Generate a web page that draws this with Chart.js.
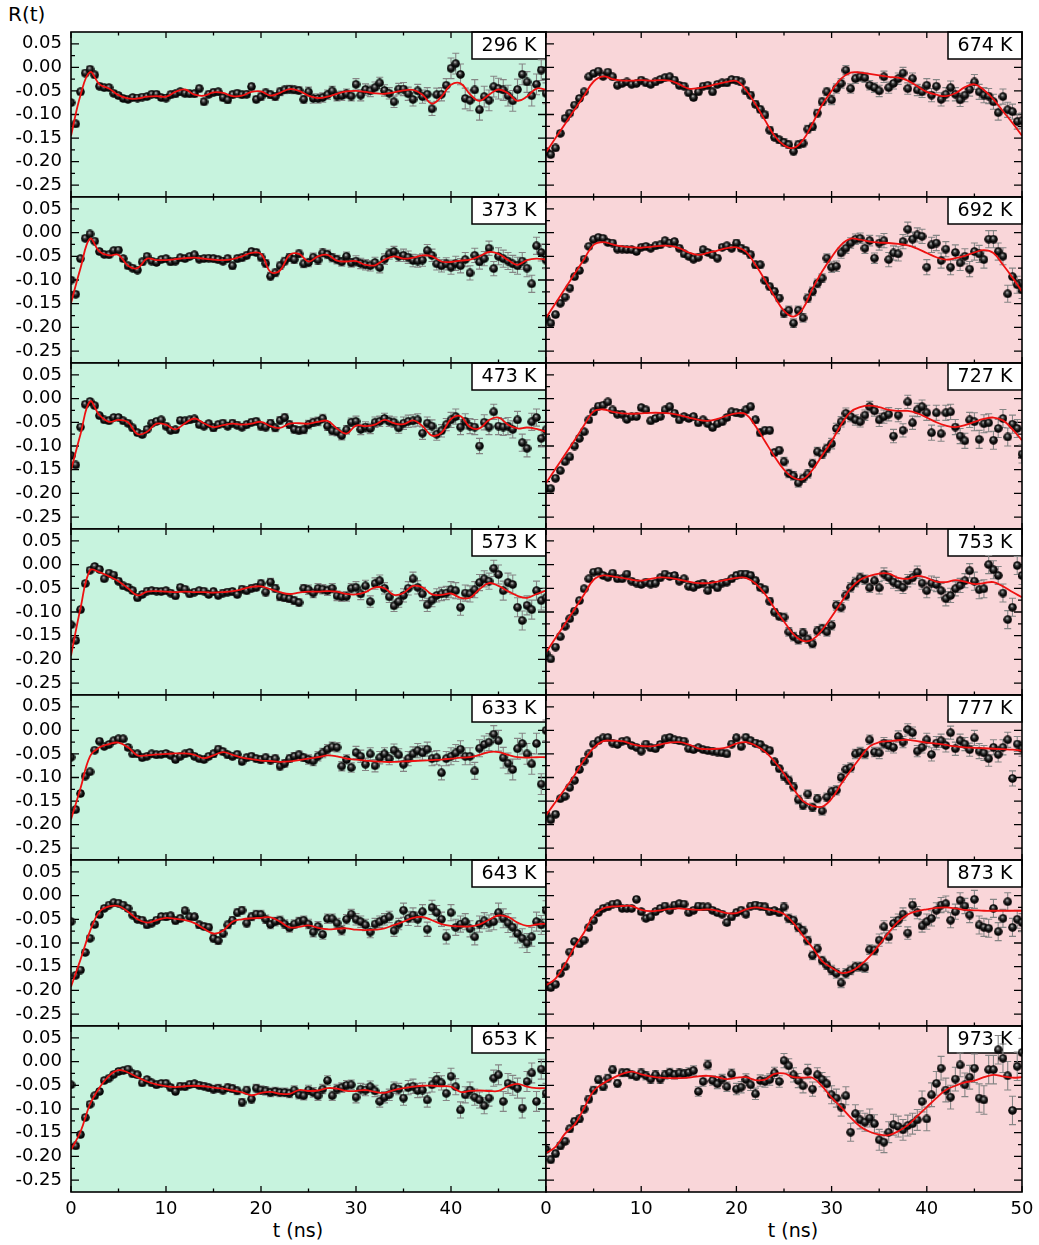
<!DOCTYPE html>
<html>
<head>
<meta charset="utf-8">
<script src="https://cdn.jsdelivr.net/npm/chart.js@4.4.1/dist/chart.umd.min.js"></script>
<style>
  body { margin: 0; background: #fff; width: 1039px; height: 1245px; position: relative; overflow: hidden; font-family: 'DejaVu Sans', sans-serif; }
  canvas { position: absolute; }
  .lab { position: absolute; font-size: 19px; line-height: 22px; color: #000; white-space: nowrap; }
</style>
</head>
<body>
<div class="lab" style="left:8px;top:3px;font-size:20px">R(t)</div>
<div class="lab" style="left:248px;top:1219px;width:100px;text-align:center">t (ns)</div>
<div class="lab" style="left:743px;top:1219px;width:100px;text-align:center">t (ns)</div>
<script>
// 14 panels, R(t) vs t, shared axes
Chart.defaults.font.family = "'DejaVu Sans', sans-serif";
Chart.defaults.font.size = 18;
Chart.defaults.color = '#000';

// sampling grids
const ptT = [0,0.5,1,1.5,2,2.5,3,3.5,4,4.5,5,5.5,6,6.5,7,7.5,8,8.5,9,9.5,
  10,10.5,11,11.5,12,12.5,13,13.5,14,14.5,15,15.5,16,16.5,17,17.5,18,18.5,19,19.5,
  20,20.5,21,21.5,22,22.5,23,23.5,24,24.5,25,25.5,26,26.5,27,27.5,28,28.5,29,29.5,
  30,30.5,31,31.5,32,32.5,33,33.5,34,34.5,35,35.5,36,36.5,37,37.5,38,38.5,39,39.5,
  40,40.5,41,41.5,42,42.5,43,43.5,44,44.5,45,45.5,46,46.5,47,47.5,48,48.5,49,49.5,50];
const fitT = [0,1,2,3,4,5,6,7,8,9,10,11,12,13,14,15,16,17,18,19,20,21,22,23,24,25,
  26,27,28,29,30,31,32,33,34,35,36,37,38,39,40,41,42,43,44,45,46,47,48,49,50];
const errBlockStart = [0,5,10,15,20,25,30,35,40,45];

// ticks
const xTicks = [0,10,20,30,40,50];
const xMinor = [5,15,25,35,45];
const yTicks = [0.05,0,-0.05,-0.1,-0.15,-0.2,-0.25];
const yMinor = [0.025,-0.025,-0.075,-0.125,-0.175,-0.225];

// ---- left column ----
const pts296 = [
  -0.075,-0.120,-0.052,-0.012,-0.004,-0.016,-0.040,-0.043,-0.043,-0.055,
  -0.060,-0.066,-0.068,-0.064,-0.065,-0.063,-0.062,-0.057,-0.057,-0.064,
  -0.065,-0.058,-0.056,-0.052,-0.055,-0.056,-0.056,-0.045,-0.073,-0.057,
  -0.053,-0.052,-0.064,-0.069,-0.058,-0.055,-0.058,-0.057,-0.041,-0.068,
  -0.062,-0.054,-0.058,-0.062,-0.052,-0.048,-0.046,-0.048,-0.049,-0.068,
  -0.052,-0.066,-0.066,-0.064,-0.058,-0.050,-0.061,-0.060,-0.056,-0.061,
  -0.036,-0.059,-0.047,-0.050,-0.043,-0.033,-0.049,-0.055,-0.073,-0.046,
  -0.046,-0.056,-0.068,-0.050,-0.062,-0.057,-0.088,-0.058,-0.057,-0.038,
  -0.002,0.008,-0.015,-0.066,-0.070,-0.048,-0.090,-0.062,-0.070,-0.041,
  -0.045,-0.048,-0.060,-0.071,-0.047,-0.015,-0.031,-0.060,-0.036,-0.006,
  -0.055];
const fit296 = [-0.145,-0.059,-0.010,-0.036,-0.045,-0.059,-0.066,-0.066,-0.062,-0.061,
  -0.062,-0.052,-0.047,-0.058,-0.060,-0.053,-0.054,-0.061,-0.060,-0.052,
  -0.051,-0.060,-0.054,-0.046,-0.050,-0.060,-0.065,-0.062,-0.056,-0.051,
  -0.050,-0.052,-0.055,-0.056,-0.053,-0.049,-0.048,-0.058,-0.077,-0.062,
  -0.037,-0.034,-0.057,-0.071,-0.058,-0.047,-0.055,-0.071,-0.062,-0.045,-0.047];
const err296 = [0.006,0.006,0.007,0.007,0.008,0.010,0.012,0.014,0.022,0.022];

const pts373 = [
  -0.100,-0.130,-0.055,-0.012,-0.003,-0.018,-0.040,-0.046,-0.047,-0.038,
  -0.037,-0.055,-0.070,-0.075,-0.079,-0.062,-0.050,-0.060,-0.063,-0.057,
  -0.055,-0.062,-0.060,-0.053,-0.055,-0.050,-0.047,-0.056,-0.055,-0.054,
  -0.055,-0.057,-0.060,-0.055,-0.070,-0.055,-0.053,-0.048,-0.040,-0.042,
  -0.052,-0.065,-0.092,-0.085,-0.070,-0.060,-0.052,-0.057,-0.045,-0.066,
  -0.063,-0.052,-0.058,-0.043,-0.046,-0.053,-0.057,-0.062,-0.050,-0.064,
  -0.060,-0.065,-0.068,-0.070,-0.063,-0.074,-0.056,-0.045,-0.040,-0.050,
  -0.048,-0.052,-0.059,-0.060,-0.058,-0.038,-0.048,-0.066,-0.070,-0.066,
  -0.073,-0.065,-0.070,-0.057,-0.085,-0.048,-0.062,-0.055,-0.033,-0.076,
  -0.050,-0.055,-0.060,-0.066,-0.070,-0.060,-0.075,-0.108,-0.028,-0.042,
  -0.058];
const fit373 = [-0.149,-0.075,-0.013,-0.040,-0.048,-0.047,-0.070,-0.075,-0.055,-0.058,
  -0.058,-0.056,-0.054,-0.053,-0.055,-0.057,-0.058,-0.056,-0.050,-0.043,
  -0.045,-0.083,-0.080,-0.047,-0.045,-0.061,-0.050,-0.047,-0.059,-0.061,
  -0.060,-0.068,-0.069,-0.057,-0.050,-0.055,-0.053,-0.048,-0.050,-0.061,
  -0.062,-0.059,-0.057,-0.050,-0.041,-0.045,-0.058,-0.068,-0.058,-0.055,-0.057];
const err373 = [0.005,0.006,0.006,0.007,0.008,0.009,0.011,0.013,0.015,0.018];

const pts473 = [
  -0.120,-0.140,-0.060,-0.012,-0.006,-0.015,-0.036,-0.045,-0.047,-0.040,
  -0.040,-0.047,-0.052,-0.062,-0.072,-0.076,-0.065,-0.052,-0.048,-0.045,
  -0.058,-0.067,-0.066,-0.046,-0.047,-0.045,-0.043,-0.055,-0.058,-0.053,
  -0.062,-0.055,-0.052,-0.058,-0.052,-0.056,-0.060,-0.055,-0.050,-0.048,
  -0.058,-0.060,-0.052,-0.062,-0.046,-0.040,-0.055,-0.065,-0.067,-0.066,
  -0.055,-0.050,-0.048,-0.042,-0.058,-0.068,-0.070,-0.078,-0.066,-0.050,
  -0.048,-0.065,-0.060,-0.063,-0.050,-0.048,-0.042,-0.048,-0.050,-0.062,
  -0.052,-0.048,-0.047,-0.045,-0.073,-0.052,-0.058,-0.075,-0.068,-0.055,
  -0.045,-0.038,-0.060,-0.048,-0.058,-0.060,-0.100,-0.050,-0.060,-0.028,
  -0.058,-0.060,-0.058,-0.065,-0.045,-0.093,-0.105,-0.049,-0.040,-0.084,
  -0.066];
const fit473 = [-0.151,-0.075,-0.006,-0.035,-0.049,-0.045,-0.050,-0.075,-0.070,-0.053,
  -0.055,-0.065,-0.052,-0.042,-0.052,-0.060,-0.056,-0.053,-0.055,-0.053,
  -0.049,-0.058,-0.062,-0.053,-0.052,-0.053,-0.049,-0.047,-0.063,-0.074,
  -0.057,-0.058,-0.055,-0.045,-0.052,-0.054,-0.046,-0.058,-0.078,-0.072,
  -0.043,-0.037,-0.060,-0.063,-0.045,-0.040,-0.055,-0.063,-0.061,-0.064,-0.070];
const err473 = [0.005,0.006,0.006,0.007,0.008,0.009,0.011,0.013,0.016,0.018];

const pts573 = [
  -0.127,-0.160,-0.095,-0.040,-0.012,-0.004,-0.010,-0.030,-0.018,-0.022,
  -0.035,-0.045,-0.048,-0.055,-0.070,-0.063,-0.056,-0.055,-0.056,-0.057,
  -0.055,-0.060,-0.066,-0.048,-0.052,-0.062,-0.058,-0.055,-0.056,-0.063,
  -0.057,-0.065,-0.060,-0.058,-0.057,-0.063,-0.052,-0.055,-0.050,-0.048,
  -0.040,-0.058,-0.037,-0.050,-0.068,-0.070,-0.072,-0.076,-0.080,-0.050,
  -0.053,-0.060,-0.050,-0.052,-0.055,-0.050,-0.066,-0.068,-0.067,-0.050,
  -0.048,-0.062,-0.045,-0.078,-0.040,-0.034,-0.050,-0.068,-0.087,-0.078,
  -0.065,-0.050,-0.030,-0.048,-0.062,-0.085,-0.075,-0.065,-0.062,-0.060,
  -0.053,-0.055,-0.090,-0.060,-0.062,-0.053,-0.038,-0.030,-0.035,-0.008,
  -0.021,-0.055,-0.038,-0.042,-0.090,-0.118,-0.086,-0.095,-0.055,-0.076,
  -0.070];
const fit573 = [-0.192,-0.092,-0.012,-0.016,-0.025,-0.035,-0.050,-0.065,-0.057,-0.056,
  -0.057,-0.058,-0.057,-0.058,-0.058,-0.059,-0.058,-0.056,-0.052,-0.047,
  -0.046,-0.052,-0.058,-0.062,-0.059,-0.057,-0.057,-0.056,-0.057,-0.062,
  -0.063,-0.058,-0.048,-0.050,-0.064,-0.060,-0.045,-0.048,-0.063,-0.064,
  -0.061,-0.070,-0.070,-0.052,-0.039,-0.045,-0.056,-0.066,-0.070,-0.062,-0.055];
const err573 = [0.005,0.006,0.006,0.007,0.008,0.010,0.012,0.014,0.017,0.020];

const pts633 = [
  -0.057,-0.168,-0.134,-0.097,-0.088,-0.042,-0.023,-0.034,-0.030,-0.022,
  -0.018,-0.018,-0.036,-0.050,-0.050,-0.058,-0.055,-0.050,-0.052,-0.051,
  -0.049,-0.053,-0.062,-0.055,-0.050,-0.047,-0.055,-0.060,-0.062,-0.055,
  -0.050,-0.040,-0.045,-0.052,-0.055,-0.051,-0.066,-0.058,-0.055,-0.060,
  -0.062,-0.058,-0.063,-0.060,-0.076,-0.070,-0.060,-0.055,-0.052,-0.058,
  -0.062,-0.065,-0.055,-0.048,-0.040,-0.035,-0.036,-0.076,-0.062,-0.079,
  -0.047,-0.055,-0.072,-0.050,-0.075,-0.058,-0.050,-0.060,-0.042,-0.052,
  -0.072,-0.060,-0.050,-0.043,-0.048,-0.040,-0.060,-0.058,-0.090,-0.060,
  -0.055,-0.048,-0.040,-0.055,-0.055,-0.086,-0.038,-0.030,-0.025,-0.008,
  -0.022,-0.058,-0.070,-0.083,-0.039,-0.028,-0.050,-0.071,-0.028,-0.114,
  0.000];
const fit633 = [-0.189,-0.123,-0.055,-0.036,-0.029,-0.026,-0.036,-0.053,-0.053,-0.051,
  -0.050,-0.049,-0.049,-0.052,-0.059,-0.053,-0.046,-0.052,-0.058,-0.061,
  -0.064,-0.065,-0.067,-0.066,-0.063,-0.060,-0.057,-0.053,-0.055,-0.060,
  -0.062,-0.064,-0.066,-0.067,-0.067,-0.066,-0.065,-0.064,-0.063,-0.062,
  -0.060,-0.058,-0.057,-0.052,-0.046,-0.046,-0.052,-0.057,-0.058,-0.057,-0.057];
const err633 = [0.005,0.006,0.006,0.007,0.008,0.010,0.013,0.015,0.018,0.022];

const pts643 = [
  -0.055,-0.168,-0.157,-0.120,-0.090,-0.061,-0.040,-0.027,-0.020,-0.015,
  -0.016,-0.020,-0.027,-0.041,-0.050,-0.052,-0.062,-0.058,-0.052,-0.044,
  -0.045,-0.043,-0.053,-0.048,-0.032,-0.045,-0.045,-0.062,-0.065,-0.067,
  -0.090,-0.095,-0.080,-0.062,-0.052,-0.036,-0.031,-0.058,-0.045,-0.039,
  -0.040,-0.050,-0.061,-0.055,-0.052,-0.060,-0.068,-0.060,-0.055,-0.052,
  -0.060,-0.077,-0.065,-0.082,-0.049,-0.049,-0.058,-0.073,-0.050,-0.039,
  -0.050,-0.055,-0.062,-0.077,-0.060,-0.055,-0.050,-0.045,-0.074,-0.060,
  -0.031,-0.048,-0.041,-0.050,-0.034,-0.071,-0.025,-0.036,-0.050,-0.087,
  -0.036,-0.067,-0.060,-0.055,-0.070,-0.087,-0.060,-0.053,-0.058,-0.055,
  -0.036,-0.048,-0.058,-0.067,-0.080,-0.090,-0.100,-0.087,-0.055,-0.062,
  -0.031];
const fit643 = [-0.192,-0.135,-0.075,-0.034,-0.023,-0.022,-0.034,-0.050,-0.057,-0.052,
  -0.047,-0.049,-0.052,-0.058,-0.070,-0.080,-0.074,-0.055,-0.050,-0.048,
  -0.047,-0.046,-0.055,-0.067,-0.066,-0.063,-0.068,-0.071,-0.070,-0.069,
  -0.072,-0.073,-0.072,-0.069,-0.062,-0.055,-0.047,-0.045,-0.052,-0.060,
  -0.064,-0.065,-0.065,-0.061,-0.051,-0.042,-0.045,-0.057,-0.064,-0.061,-0.059];
const err643 = [0.005,0.006,0.007,0.008,0.009,0.010,0.012,0.015,0.017,0.020];

const pts653 = [
  -0.049,-0.178,-0.154,-0.118,-0.090,-0.072,-0.063,-0.040,-0.035,-0.027,
  -0.021,-0.019,-0.016,-0.026,-0.028,-0.045,-0.038,-0.045,-0.049,-0.046,
  -0.046,-0.055,-0.063,-0.052,-0.053,-0.048,-0.047,-0.050,-0.052,-0.055,
  -0.058,-0.056,-0.060,-0.055,-0.057,-0.062,-0.086,-0.060,-0.079,-0.056,
  -0.060,-0.062,-0.065,-0.063,-0.065,-0.065,-0.067,-0.060,-0.070,-0.072,
  -0.060,-0.065,-0.072,-0.058,-0.040,-0.072,-0.058,-0.055,-0.050,-0.049,
  -0.075,-0.058,-0.060,-0.053,-0.062,-0.084,-0.075,-0.070,-0.055,-0.058,
  -0.077,-0.055,-0.052,-0.061,-0.060,-0.081,-0.049,-0.038,-0.045,-0.067,
  -0.031,-0.053,-0.102,-0.070,-0.060,-0.075,-0.081,-0.093,-0.077,-0.035,
  -0.028,-0.084,-0.046,-0.050,-0.056,-0.098,-0.042,-0.024,-0.084,-0.016,
  -0.067];
const fit653 = [-0.186,-0.148,-0.090,-0.055,-0.030,-0.018,-0.023,-0.033,-0.042,-0.048,
  -0.052,-0.054,-0.052,-0.051,-0.052,-0.055,-0.057,-0.061,-0.065,-0.071,
  -0.066,-0.064,-0.068,-0.068,-0.060,-0.062,-0.061,-0.056,-0.057,-0.062,
  -0.062,-0.060,-0.064,-0.066,-0.060,-0.056,-0.053,-0.051,-0.051,-0.052,
  -0.053,-0.064,-0.062,-0.061,-0.062,-0.062,-0.052,-0.047,-0.053,-0.056,-0.056];
const err653 = [0.005,0.006,0.007,0.008,0.009,0.010,0.012,0.015,0.017,0.021];

// ---- right column ----
const pts674 = [
  -0.178,-0.185,-0.171,-0.140,-0.108,-0.097,-0.080,-0.066,-0.052,-0.020,
  -0.013,-0.008,-0.019,-0.010,-0.020,-0.038,-0.034,-0.031,-0.036,-0.034,
  -0.027,-0.033,-0.036,-0.031,-0.026,-0.022,-0.020,-0.027,-0.038,-0.040,
  -0.054,-0.064,-0.052,-0.040,-0.038,-0.052,-0.036,-0.033,-0.033,-0.026,
  -0.027,-0.031,-0.050,-0.059,-0.078,-0.089,-0.101,-0.133,-0.148,-0.154,
  -0.159,-0.164,-0.178,-0.164,-0.161,-0.131,-0.126,-0.097,-0.073,-0.052,
  -0.069,-0.045,-0.034,-0.006,-0.045,-0.024,-0.020,-0.022,-0.038,-0.043,
  -0.050,-0.020,-0.043,-0.034,-0.024,-0.012,-0.045,-0.024,-0.048,-0.052,
  -0.038,-0.059,-0.040,-0.068,-0.057,-0.043,-0.057,-0.069,-0.059,-0.047,
  -0.031,-0.052,-0.059,-0.061,-0.073,-0.096,-0.062,-0.090,-0.094,-0.115,
  -0.113];
const fit674 = [-0.180,-0.150,-0.120,-0.090,-0.060,-0.030,-0.019,-0.025,-0.028,-0.028,
  -0.027,-0.028,-0.027,-0.028,-0.036,-0.045,-0.044,-0.040,-0.035,-0.031,
  -0.029,-0.048,-0.078,-0.112,-0.145,-0.165,-0.171,-0.154,-0.119,-0.080,
  -0.050,-0.024,-0.011,-0.011,-0.014,-0.017,-0.020,-0.022,-0.028,-0.040,
  -0.052,-0.058,-0.061,-0.055,-0.042,-0.036,-0.048,-0.068,-0.093,-0.118,-0.145];
const err674 = [0.005,0.005,0.006,0.006,0.007,0.008,0.010,0.012,0.014,0.016];

const pts692 = [
  -0.182,-0.191,-0.173,-0.149,-0.136,-0.117,-0.093,-0.080,-0.056,-0.029,
  -0.015,-0.010,-0.012,-0.021,-0.022,-0.035,-0.035,-0.036,-0.036,-0.040,
  -0.031,-0.029,-0.033,-0.028,-0.026,-0.017,-0.022,-0.019,-0.033,-0.045,
  -0.050,-0.056,-0.052,-0.036,-0.042,-0.047,-0.054,-0.031,-0.028,-0.033,
  -0.022,-0.033,-0.038,-0.047,-0.068,-0.068,-0.101,-0.114,-0.124,-0.138,
  -0.170,-0.164,-0.191,-0.164,-0.180,-0.138,-0.124,-0.107,-0.096,-0.054,
  -0.073,-0.071,-0.043,-0.033,-0.022,-0.014,-0.012,-0.033,-0.017,-0.054,
  -0.022,-0.017,-0.057,-0.043,-0.045,-0.019,0.007,-0.014,-0.005,-0.008,
  -0.073,-0.026,-0.022,-0.059,-0.035,-0.073,-0.042,-0.064,-0.050,-0.077,
  -0.040,-0.045,-0.057,-0.014,-0.014,-0.040,-0.050,-0.129,-0.093,-0.110,
  -0.121];
const fit692 = [-0.180,-0.149,-0.118,-0.087,-0.056,-0.026,-0.020,-0.025,-0.029,-0.031,
  -0.032,-0.030,-0.028,-0.028,-0.033,-0.042,-0.047,-0.043,-0.038,-0.033,
  -0.031,-0.040,-0.068,-0.100,-0.135,-0.165,-0.177,-0.160,-0.118,-0.082,
  -0.052,-0.026,-0.013,-0.015,-0.019,-0.021,-0.022,-0.024,-0.027,-0.034,
  -0.043,-0.052,-0.057,-0.054,-0.049,-0.042,-0.037,-0.043,-0.068,-0.095,-0.124];
const err692 = [0.005,0.005,0.006,0.006,0.007,0.009,0.011,0.015,0.016,0.018];

const pts727 = [
  -0.190,-0.190,-0.168,-0.152,-0.133,-0.123,-0.100,-0.084,-0.070,-0.045,
  -0.028,-0.016,-0.014,-0.007,-0.024,-0.033,-0.033,-0.044,-0.038,-0.038,
  -0.019,-0.024,-0.047,-0.042,-0.038,-0.024,-0.017,-0.031,-0.045,-0.038,
  -0.042,-0.038,-0.051,-0.045,-0.053,-0.061,-0.053,-0.049,-0.040,-0.028,
  -0.030,-0.031,-0.024,-0.017,-0.045,-0.072,-0.067,-0.067,-0.114,-0.109,
  -0.133,-0.158,-0.163,-0.178,-0.168,-0.159,-0.137,-0.112,-0.117,-0.105,
  -0.095,-0.063,-0.049,-0.031,-0.038,-0.045,-0.049,-0.035,-0.017,-0.026,
  -0.045,-0.038,-0.033,-0.079,-0.035,-0.067,-0.007,-0.051,-0.024,-0.017,
  -0.030,-0.072,-0.030,-0.074,-0.030,-0.028,-0.060,-0.079,-0.089,-0.045,
  -0.049,-0.086,-0.053,-0.051,-0.088,-0.063,-0.042,-0.081,-0.054,-0.063,
  -0.117];
const fit727 = [-0.178,-0.148,-0.118,-0.088,-0.056,-0.027,-0.023,-0.028,-0.031,-0.032,
  -0.031,-0.030,-0.030,-0.031,-0.035,-0.040,-0.045,-0.047,-0.043,-0.036,
  -0.031,-0.033,-0.058,-0.090,-0.122,-0.150,-0.167,-0.170,-0.150,-0.120,
  -0.090,-0.055,-0.028,-0.018,-0.015,-0.018,-0.024,-0.026,-0.026,-0.031,
  -0.040,-0.050,-0.057,-0.060,-0.056,-0.049,-0.043,-0.040,-0.046,-0.065,-0.088];
const err727 = [0.005,0.005,0.006,0.006,0.007,0.009,0.011,0.014,0.016,0.019];

const pts753 = [
  -0.188,-0.199,-0.174,-0.152,-0.130,-0.114,-0.098,-0.076,-0.051,-0.030,
  -0.016,-0.014,-0.023,-0.027,-0.018,-0.030,-0.030,-0.020,-0.035,-0.039,
  -0.042,-0.037,-0.041,-0.039,-0.028,-0.020,-0.025,-0.023,-0.035,-0.030,
  -0.046,-0.048,-0.042,-0.039,-0.055,-0.042,-0.049,-0.039,-0.037,-0.030,
  -0.023,-0.020,-0.020,-0.023,-0.034,-0.048,-0.053,-0.077,-0.100,-0.109,
  -0.111,-0.142,-0.152,-0.159,-0.144,-0.157,-0.167,-0.140,-0.135,-0.142,
  -0.128,-0.086,-0.090,-0.065,-0.048,-0.037,-0.028,-0.032,-0.049,-0.034,
  -0.049,-0.020,-0.027,-0.037,-0.042,-0.048,-0.034,-0.028,-0.016,-0.039,
  -0.055,-0.039,-0.042,-0.055,-0.072,-0.065,-0.051,-0.044,-0.034,-0.013,
  -0.035,-0.053,-0.051,0.000,-0.011,-0.023,-0.060,-0.116,-0.090,-0.002,
  -0.023];
const fit753 = [-0.185,-0.155,-0.125,-0.094,-0.063,-0.032,-0.023,-0.025,-0.028,-0.032,
  -0.034,-0.030,-0.027,-0.028,-0.032,-0.036,-0.039,-0.039,-0.036,-0.032,
  -0.028,-0.028,-0.040,-0.062,-0.092,-0.120,-0.147,-0.161,-0.158,-0.138,
  -0.110,-0.080,-0.050,-0.032,-0.024,-0.019,-0.019,-0.028,-0.030,-0.024,
  -0.028,-0.036,-0.037,-0.033,-0.036,-0.041,-0.039,-0.037,-0.046,-0.058,-0.069];
const err753 = [0.005,0.005,0.006,0.006,0.007,0.009,0.010,0.013,0.015,0.019];

const pts777 = [
  -0.180,-0.190,-0.178,-0.145,-0.140,-0.121,-0.106,-0.083,-0.065,-0.050,
  -0.029,-0.022,-0.016,-0.015,-0.027,-0.030,-0.023,-0.022,-0.032,-0.036,
  -0.044,-0.029,-0.037,-0.039,-0.030,-0.018,-0.015,-0.020,-0.022,-0.023,
  -0.039,-0.041,-0.037,-0.041,-0.043,-0.044,-0.046,-0.048,-0.050,-0.029,
  -0.016,-0.034,-0.015,-0.022,-0.027,-0.030,-0.039,-0.043,-0.067,-0.081,
  -0.097,-0.106,-0.120,-0.147,-0.159,-0.135,-0.163,-0.145,-0.171,-0.142,
  -0.130,-0.127,-0.100,-0.083,-0.079,-0.050,-0.046,-0.050,-0.020,-0.046,
  -0.048,-0.027,-0.032,-0.036,-0.013,-0.025,0.002,-0.005,-0.044,-0.036,
  -0.020,-0.051,-0.027,-0.022,-0.032,-0.005,-0.039,-0.022,-0.029,-0.041,
  -0.016,-0.044,-0.048,-0.060,-0.036,-0.051,-0.036,-0.020,-0.102,-0.029,
  -0.039];
const fit777 = [-0.180,-0.152,-0.124,-0.095,-0.063,-0.037,-0.023,-0.022,-0.023,-0.029,
  -0.033,-0.034,-0.030,-0.026,-0.025,-0.030,-0.038,-0.040,-0.039,-0.036,
  -0.028,-0.025,-0.032,-0.045,-0.066,-0.092,-0.124,-0.150,-0.160,-0.162,
  -0.145,-0.114,-0.085,-0.058,-0.034,-0.025,-0.023,-0.021,-0.020,-0.023,
  -0.026,-0.028,-0.031,-0.034,-0.036,-0.037,-0.038,-0.039,-0.040,-0.041,-0.043];
const err777 = [0.005,0.005,0.006,0.006,0.007,0.009,0.010,0.012,0.014,0.016];

const pts873 = [
  -0.189,-0.194,-0.187,-0.164,-0.150,-0.119,-0.097,-0.102,-0.094,-0.067,
  -0.052,-0.036,-0.027,-0.024,-0.018,-0.017,-0.027,-0.027,-0.027,-0.008,
  -0.034,-0.048,-0.045,-0.034,-0.027,-0.022,-0.031,-0.020,-0.017,-0.018,
  -0.036,-0.031,-0.022,-0.024,-0.024,-0.031,-0.036,-0.039,-0.057,-0.045,
  -0.036,-0.031,-0.039,-0.022,-0.020,-0.022,-0.024,-0.034,-0.032,-0.036,
  -0.024,-0.048,-0.052,-0.067,-0.074,-0.095,-0.126,-0.112,-0.137,-0.147,
  -0.157,-0.164,-0.184,-0.164,-0.157,-0.150,-0.150,-0.152,-0.114,-0.115,
  -0.094,-0.066,-0.087,-0.059,-0.052,-0.039,-0.079,-0.020,-0.036,-0.064,
  -0.055,-0.048,-0.031,-0.020,-0.017,-0.052,-0.034,-0.010,-0.022,-0.041,
  -0.008,-0.062,-0.067,-0.069,-0.027,-0.076,-0.048,-0.013,-0.067,-0.050,
  -0.057];
const fit873 = [-0.189,-0.175,-0.145,-0.108,-0.078,-0.042,-0.027,-0.023,-0.022,-0.022,
  -0.030,-0.033,-0.031,-0.028,-0.027,-0.029,-0.030,-0.029,-0.032,-0.037,
  -0.037,-0.029,-0.025,-0.028,-0.032,-0.039,-0.058,-0.085,-0.110,-0.138,
  -0.152,-0.163,-0.160,-0.147,-0.128,-0.104,-0.078,-0.055,-0.040,-0.033,
  -0.029,-0.026,-0.025,-0.027,-0.030,-0.031,-0.032,-0.032,-0.032,-0.032,-0.032];
const err873 = [0.005,0.005,0.006,0.006,0.007,0.009,0.010,0.013,0.016,0.019];

const pts973 = [
  -0.185,-0.207,-0.194,-0.178,-0.168,-0.142,-0.126,-0.121,-0.100,-0.079,
  -0.060,-0.038,-0.053,-0.035,-0.017,-0.046,-0.024,-0.023,-0.028,-0.031,
  -0.024,-0.030,-0.037,-0.028,-0.037,-0.028,-0.023,-0.028,-0.024,-0.026,
  -0.023,-0.019,-0.063,-0.042,-0.007,-0.040,-0.047,-0.037,-0.053,-0.026,
  -0.058,-0.054,-0.038,-0.049,-0.068,-0.040,-0.042,-0.038,-0.024,-0.042,
  0.002,-0.009,-0.028,-0.040,-0.051,-0.021,-0.058,-0.028,-0.038,-0.047,
  -0.070,-0.077,-0.096,-0.072,-0.149,-0.110,-0.123,-0.128,-0.119,-0.131,
  -0.165,-0.170,-0.149,-0.133,-0.137,-0.144,-0.135,-0.131,-0.123,-0.084,
  -0.121,-0.070,-0.046,-0.014,-0.060,-0.075,-0.037,-0.007,-0.049,-0.033,
  -0.014,-0.077,-0.081,-0.017,-0.017,0.025,0.007,-0.030,-0.103,-0.010,
  0.019];
const fit973 = [-0.193,-0.180,-0.152,-0.133,-0.098,-0.062,-0.046,-0.035,-0.026,-0.021,
  -0.027,-0.031,-0.034,-0.035,-0.035,-0.034,-0.031,-0.030,-0.033,-0.037,
  -0.034,-0.033,-0.039,-0.038,-0.026,-0.025,-0.033,-0.034,-0.034,-0.052,
  -0.076,-0.096,-0.118,-0.137,-0.148,-0.154,-0.155,-0.147,-0.134,-0.115,
  -0.096,-0.077,-0.060,-0.051,-0.044,-0.040,-0.033,-0.028,-0.031,-0.034,-0.033];
const err973 = [0.007,0.008,0.009,0.010,0.012,0.015,0.019,0.022,0.025,0.030];

const panels = [
  { label: '296 K', row: 0, col: 0, pts: pts296, fit: fit296, err: err296 },
  { label: '373 K', row: 1, col: 0, pts: pts373, fit: fit373, err: err373 },
  { label: '473 K', row: 2, col: 0, pts: pts473, fit: fit473, err: err473 },
  { label: '573 K', row: 3, col: 0, pts: pts573, fit: fit573, err: err573 },
  { label: '633 K', row: 4, col: 0, pts: pts633, fit: fit633, err: err633 },
  { label: '643 K', row: 5, col: 0, pts: pts643, fit: fit643, err: err643 },
  { label: '653 K', row: 6, col: 0, pts: pts653, fit: fit653, err: err653 },
  { label: '674 K', row: 0, col: 1, pts: pts674, fit: fit674, err: err674 },
  { label: '692 K', row: 1, col: 1, pts: pts692, fit: fit692, err: err692 },
  { label: '727 K', row: 2, col: 1, pts: pts727, fit: fit727, err: err727 },
  { label: '753 K', row: 3, col: 1, pts: pts753, fit: fit753, err: err753 },
  { label: '777 K', row: 4, col: 1, pts: pts777, fit: fit777, err: err777 },
  { label: '873 K', row: 5, col: 1, pts: pts873, fit: fit873, err: err873 },
  { label: '973 K', row: 6, col: 1, pts: pts973, fit: fit973, err: err973 }
];

// layout
const rowTop = [32, 197, 363, 529, 695, 860, 1026, 1192];
const bgLeft = '#c7f3de';
const bgRight = '#f9d6d9';

// shaded ball marker
const ball = document.createElement('canvas');
ball.width = 9; ball.height = 9;
(function () {
  const bc = ball.getContext('2d');
  const g = bc.createRadialGradient(3.8, 3.0, 0.2, 4.5, 4.5, 4.5);
  g.addColorStop(0, '#d4d4d4');
  g.addColorStop(0.22, '#5a5a5a');
  g.addColorStop(0.55, '#111111');
  g.addColorStop(1, '#000000');
  bc.fillStyle = g;
  bc.beginPath(); bc.arc(4.5, 4.5, 4.3, 0, Math.PI * 2); bc.fill();
})();

function errFor(err, t) {
  let k = 0;
  errBlockStart.forEach((s, i) => { if (t >= s) k = i; });
  return err[k];
}

function panelPlugin(p) {
  return {
    id: 'panel',
    beforeDraw(chart) {
      const a = chart.chartArea, ctx = chart.ctx;
      ctx.save();
      ctx.fillStyle = p.col === 0 ? bgLeft : bgRight;
      ctx.fillRect(a.left, a.top, a.right - a.left, a.bottom - a.top);
      ctx.restore();
    },
    beforeDatasetsDraw(chart) {
      const a = chart.chartArea, ctx = chart.ctx;
      const xs = chart.scales.x, ys = chart.scales.y;
      ctx.save();
      // inner ticks on all four sides
      ctx.strokeStyle = '#000';
      ctx.lineWidth = 1.3;
      ctx.beginPath();
      const yTick = (v, len) => {
        const y = ys.getPixelForValue(v);
        ctx.moveTo(a.left, y); ctx.lineTo(a.left + len, y);
        ctx.moveTo(a.right, y); ctx.lineTo(a.right - len, y);
      };
      const xTick = (v, len) => {
        const x = xs.getPixelForValue(v);
        ctx.moveTo(x, a.bottom); ctx.lineTo(x, a.bottom - len);
        ctx.moveTo(x, a.top); ctx.lineTo(x, a.top + len);
      };
      yTicks.forEach(v => yTick(v, 8));
      yMinor.forEach(v => yTick(v, 4));
      xTicks.forEach(v => xTick(v, 6));
      xMinor.forEach(v => xTick(v, 3.5));
      ctx.stroke();

      // temperature box
      const bw = 74, bh = 27;
      ctx.fillStyle = '#fff';
      ctx.fillRect(a.right - bw, a.top, bw, bh);
      ctx.lineWidth = 1.5;
      ctx.strokeRect(a.right - bw, a.top, bw, bh);
      ctx.fillStyle = '#000';
      ctx.font = "19px 'DejaVu Sans', sans-serif";
      ctx.textAlign = 'center';
      ctx.textBaseline = 'middle';
      ctx.fillText(p.label, a.right - bw / 2, a.top + bh / 2 + 1);

      // error bars
      ctx.beginPath();
      ctx.rect(a.left, a.top, a.right - a.left, a.bottom - a.top);
      ctx.clip();
      ctx.strokeStyle = '#858585';
      ctx.lineWidth = 1.1;
      ctx.beginPath();
      ptT.forEach((t, i) => {
        const e = errFor(p.err, t);
        const x = xs.getPixelForValue(t);
        const y1 = ys.getPixelForValue(p.pts[i] + e);
        const y2 = ys.getPixelForValue(p.pts[i] - e);
        ctx.moveTo(x, y1); ctx.lineTo(x, y2);
        ctx.moveTo(x - 3.5, y1); ctx.lineTo(x + 3.5, y1);
        ctx.moveTo(x - 3.5, y2); ctx.lineTo(x + 3.5, y2);
      });
      ctx.stroke();
      ctx.restore();
    },
    afterDraw(chart) {
      const a = chart.chartArea, ctx = chart.ctx;
      ctx.save();
      ctx.strokeStyle = '#000';
      ctx.lineWidth = 1.6;
      ctx.strokeRect(a.left, a.top, a.right - a.left, a.bottom - a.top);
      ctx.restore();
    }
  };
}

panels.forEach(p => {
  const last = p.row === 6;
  const top = rowTop[p.row], bottom = rowTop[p.row + 1];
  const cLeft = p.col === 0 ? 0 : 530;
  const cWidth = p.col === 0 ? 560 : 509;
  const cTop = top - 6;
  const cHeight = last ? 1245 - cTop : bottom - top + 12;

  const cv = document.createElement('canvas');
  cv.width = cWidth; cv.height = cHeight;
  cv.style.left = cLeft + 'px'; cv.style.top = cTop + 'px';
  cv.style.width = cWidth + 'px'; cv.style.height = cHeight + 'px';
  document.body.appendChild(cv);

  new Chart(cv, {
    type: 'scatter',
    data: {
      datasets: [
        {
          type: 'line',
          data: fitT.map((t, i) => ({ x: t, y: p.fit[i] })),
          borderColor: '#ee1111',
          borderWidth: 1.8,
          pointRadius: 0,
          tension: 0.4,
          fill: false
        },
        {
          type: 'scatter',
          data: ptT.map((t, i) => ({ x: t, y: p.pts[i] })),
          pointStyle: ball,
          pointRadius: 4.3
        }
      ]
    },
    options: {
      responsive: false,
      animation: false,
      events: [],
      layout: { padding: { left: p.col === 0 ? 0 : 16, right: p.col === 0 ? 14 : 17, top: 6, bottom: last ? 0 : 6 } },
      plugins: { legend: { display: false }, tooltip: { enabled: false } },
      scales: {
        x: {
          type: 'linear', min: 0, max: 50,
          display: last,
          afterBuildTicks: s => { s.ticks = xTicks.map(v => ({ value: v })); },
          afterFit: s => { if (last) s.height = 53; s.paddingLeft = 0; s.paddingRight = 0; },
          ticks: {
            autoSkip: false, maxRotation: 0, padding: 7,
            callback: v => (p.col === 0 && v === 50) ? '' : String(v)
          },
          grid: { display: false, drawTicks: false },
          border: { display: false }
        },
        y: {
          type: 'linear', min: -0.275, max: 0.075,
          display: p.col === 0,
          afterBuildTicks: s => { s.ticks = yTicks.map(v => ({ value: v })); },
          afterFit: s => { if (p.col === 0) s.width = 71; s.paddingTop = 0; s.paddingBottom = 0; },
          ticks: { autoSkip: false, padding: 9, callback: v => v.toFixed(2) },
          grid: { display: false, drawTicks: false },
          border: { display: false }
        }
      }
    },
    plugins: [panelPlugin(p)]
  });
});
</script>
</body>
</html>
